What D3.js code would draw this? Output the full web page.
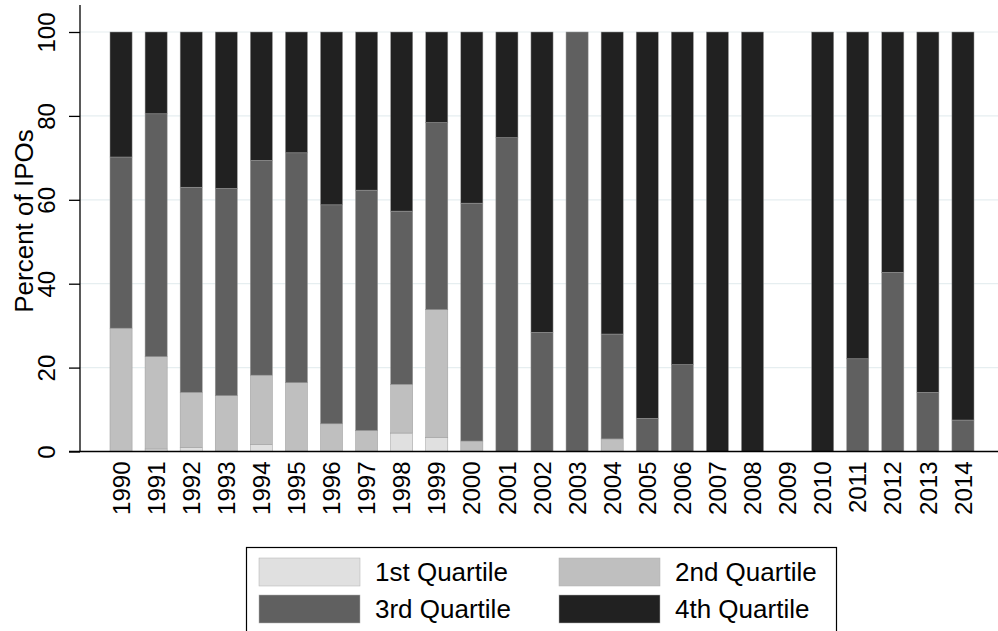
<!DOCTYPE html>
<html>
<head>
<meta charset="utf-8">
<script src="https://cdn.jsdelivr.net/npm/d3@7"></script>
<style>
  body { margin: 0; background: #fff; }
  svg { font-family: "Liberation Sans", Arial, Helvetica, sans-serif; }
</style>
</head>
<body>
<svg id="chart" width="998" height="631"></svg>
<script>
// years on the x axis
const years = ["1990", "1991", "1992", "1993", "1994", "1995", "1996", "1997", "1998", "1999",
  "2000", "2001", "2002", "2003", "2004", "2005", "2006", "2007", "2008", "2009",
  "2010", "2011", "2012", "2013", "2014"];
const quartiles = ["1st Quartile", "2nd Quartile", "3rd Quartile", "4th Quartile"];
// percent of IPOs in each quartile, by year
const q1 = [0, 0.6, 0.9, 0, 1.7, 0, 0, 0, 4.4, 3.4, 0, 0, 0, 0, 0, 0, 0, 0, 0, 0, 0, 0, 0, 0, 0];
const q2 = [29.4, 22.0, 13.2, 13.3, 16.5, 16.4, 6.6, 5.0, 11.6, 30.4, 2.5, 0, 0, 0, 3.0, 0, 0, 0, 0, 0, 0, 0, 0, 0, 0];
const q3 = [40.8, 57.9, 48.9, 49.4, 51.2, 54.8, 52.2, 57.3, 41.3, 44.6, 56.7, 74.8, 28.4, 100, 25.0, 7.9, 20.7, 0, 0, 0, 0, 22.1, 42.7, 14.1, 7.5];
const q4 = [29.8, 19.5, 37.0, 37.3, 30.6, 28.8, 41.2, 37.7, 42.7, 21.6, 40.8, 25.2, 71.6, 0, 72.0, 92.1, 79.3, 100, 100, 0, 100, 77.9, 57.3, 85.9, 92.5];
const yTicks = [0, 20, 40, 60, 80, 100];

const palette = ["#e0e0e0", "#bfbfbf", "#606060", "#212121"];

const rows = years.map((y, i) => ({
  year: y,
  "1st Quartile": q1[i],
  "2nd Quartile": q2[i],
  "3rd Quartile": q3[i],
  "4th Quartile": q4[i],
}));

const svg = d3.select("#chart");
const xScale = d3.scaleBand().domain(years).range([103.5, 980.5]).paddingInner(0.37).paddingOuter(0.185);
const yScale = d3.scaleLinear().domain([0, 100]).range([451.5, 32]);
const cScale = d3.scaleOrdinal().domain(quartiles).range(palette);

// gridlines
svg.append("g")
  .selectAll("line")
  .data(yTicks)
  .join("line")
  .attr("x1", 80)
  .attr("x2", 998)
  .attr("y1", (d) => yScale(d))
  .attr("y2", (d) => yScale(d))
  .attr("stroke", "#e6eef0")
  .attr("stroke-width", 1.2);

// stacked bars
const series = d3.stack().keys(quartiles)(rows);
svg.append("g")
  .selectAll("g")
  .data(series)
  .join("g")
  .attr("fill", (d) => cScale(d.key))
  .selectAll("rect")
  .data((d) => d.filter((s) => s[1] - s[0] > 0))
  .join("rect")
  .attr("x", (d) => xScale(d.data.year))
  .attr("width", xScale.bandwidth())
  .attr("y", (d) => yScale(d[1]))
  .attr("height", (d) => yScale(d[0]) - yScale(d[1]))
  .attr("stroke", "#9a9a9a")
  .attr("stroke-width", 0.5);

// y axis
const yAxis = svg.append("g")
  .attr("transform", "translate(80,0)")
  .call(d3.axisLeft(yScale).tickValues(yTicks).tickSize(11).tickFormat(d3.format("d")));
yAxis.select(".domain").attr("d", "M0,5V451.5").attr("stroke", "#000").attr("stroke-width", 1.3);
yAxis.selectAll(".tick line").attr("stroke", "#000").attr("stroke-width", 1.3);
yAxis.selectAll(".tick text")
  .attr("transform", "rotate(-90)")
  .attr("x", 0)
  .attr("y", -25)
  .attr("dy", 0)
  .attr("text-anchor", "middle")
  .attr("fill", "#000")
  .style("font-size", "24px");

// x axis
const xAxis = svg.append("g")
  .attr("transform", `translate(0,${yScale(0)})`)
  .call(d3.axisBottom(xScale).tickSize(0));
xAxis.select(".domain").attr("d", "M69,0H998").attr("stroke", "#000").attr("stroke-width", 1.3);
xAxis.selectAll(".tick text")
  .attr("transform", "rotate(-90)")
  .attr("x", -10)
  .attr("y", 0)
  .attr("dy", "0.36em")
  .attr("text-anchor", "end")
  .attr("fill", "#000")
  .style("font-size", "24px");

// axis title
svg.append("text")
  .attr("transform", "translate(33,221) rotate(-90)")
  .attr("text-anchor", "middle")
  .style("font-size", "26px")
  .text("Percent of IPOs");

// legend
const legend = svg.append("g");
legend.append("rect")
  .attr("x", 246.5)
  .attr("y", 547.5)
  .attr("width", 590)
  .attr("height", 100)
  .attr("fill", "#fff")
  .attr("stroke", "#000")
  .attr("stroke-width", 1.2);
const item = legend.selectAll("g.item")
  .data(quartiles)
  .join("g")
  .attr("class", "item")
  .attr("transform", (d, i) => `translate(${i % 2 ? 559 : 259},${i < 2 ? 558 : 595})`);
item.append("rect")
  .attr("width", 101)
  .attr("height", 28)
  .attr("fill", (d) => cScale(d))
  .attr("stroke", "#b0b0b0")
  .attr("stroke-width", 0.5);
item.append("text")
  .attr("x", 116)
  .attr("y", 14)
  .attr("dy", "0.35em")
  .style("font-size", "26px")
  .text((d) => d);
</script>
</body>
</html>
